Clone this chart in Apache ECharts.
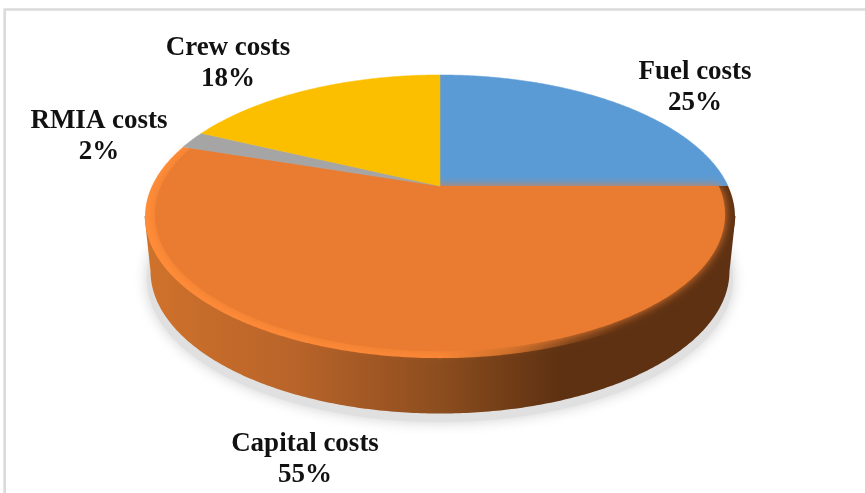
<!DOCTYPE html>
<html>
<head>
<meta charset="utf-8">
<style>html,body{margin:0;padding:0;background:#fff}#c{width:865px;height:493px}</style>
<script src="https://cdn.jsdelivr.net/npm/echarts@6/dist/echarts.min.js"></script>
</head>
<body>
<div id="c"></div>
<script>
// Data, clockwise from 12 o'clock
var categories = ['Fuel costs', 'Capital costs', 'RMIA costs', 'Crew costs'];
var shares = [25, 55, 2, 18];

// Styling and layout, kept apart from the data
var sliceColors = ['#5b9bd5', '#ea7c31', '#a5a5a5', '#fcbf00'];
var labelAnchors = [[695, 87.5], [305, 459.5], [99, 136.5], [228, 64]];
var apex = [440, 186], scaleX = 288, scaleY = 135, persp = 0.2157, rimScale = 0.968;
var wallCx = 440, wallTop = 216, wallTopRx = 295.5, wallTopRy = 141.5;
var wallBottom = 271, wallBottomRx = 289.5, wallBottomRy = 142.5;
var total = shares.reduce(function (a, b) { return a + b; }, 0);

// Projects a point of the unit disc (angle clockwise from 12 o'clock) on to the tilted pie
function project(pct, r) {
  var t = pct / total * 2 * Math.PI;
  var u = r * Math.sin(t), v = r * Math.cos(t), d = 1 + persp * v;
  return [apex[0] + scaleX * u / d, apex[1] - scaleY * v / d];
}
function slicePoints(from, to, r) {
  var pts = [apex.slice()];
  var n = Math.max(8, Math.ceil((to - from) * 8));
  for (var i = 0; i <= n; i++) pts.push(project(from + (to - from) * i / n, r));
  return pts;
}
function ellipsePoints(cx, cy, rx, ry, a0, a1, n) {
  var pts = [];
  for (var i = 0; i <= n; i++) {
    var a = a0 + (a1 - a0) * i / n;
    pts.push([cx + rx * Math.cos(a), cy + ry * Math.sin(a)]);
  }
  return pts;
}
function hGradient(stops) {
  return new echarts.graphic.LinearGradient(146, 0, 736, 0, stops.map(function (s) {
    return { offset: s[0], color: s[1] };
  }), true);
}

function renderBody() {
  var wall = ellipsePoints(wallCx, wallBottom, wallBottomRx, wallBottomRy, 0, Math.PI, 240);
  wall.unshift([wallCx + wallTopRx, wallTop]);
  wall.push([wallCx - wallTopRx, wallTop]);
  return {
    type: 'group', silent: true,
    children: [{
      type: 'polygon',
      shape: { points: ellipsePoints(440, 279, 293, 143, 0, 2 * Math.PI, 240) },
      style: { fill: '#e0e0e0', shadowBlur: 14, shadowColor: '#d0d0d0' }
    }, {
      type: 'polygon', shape: { points: wall },
      style: { fill: hGradient([[0, '#cf722b'], [0.25, '#b9642a'], [0.5, '#8c4d1e'], [0.7, '#5e3112'], [1, '#5e3112']]) }
    }]
  };
}

function renderSlice(params, api) {
  var idx = params.dataIndex;
  var value = api.value(0);
  var start = 0;
  for (var i = 0; i < idx; i++) start += shares[i];
  var end = start + value;
  var color = sliceColors[idx];
  var children = [];

  if (idx === 1) { // the front slice carries the bevelled rim
    children.push({
      type: 'polygon', silent: true, shape: { points: slicePoints(start, end, 1) },
      style: { fill: hGradient([[0, '#ff8c38'], [0.5, '#fb8736'], [0.62, '#c96d2a'], [0.72, '#7c4319'], [0.8, '#5e3112'], [1, '#5e3112']]) }
    });
    children.push({
      type: 'polygon', shape: { points: slicePoints(start, end, rimScale) },
      style: { fill: color, shadowBlur: 10, shadowColor: color }
    });
  } else {
    children.push({
      type: 'polygon', shape: { points: slicePoints(start, end, 1) },
      style: { fill: color, stroke: color, lineWidth: 0.5 }
    });
  }
  return { type: 'group', children: children };
}

function renderLabels(params, api) {
  var a = labelAnchors[params.dataIndex];
  return {
    type: 'text', silent: true, x: a[0], y: a[1],
    style: {
      text: categories[params.dataIndex] + '\n' + api.value(0) + '%',
      fill: '#111', align: 'center', verticalAlign: 'middle',
      font: 'bold 27px "Liberation Serif", serif', lineHeight: 31
    }
  };
}

var chart = echarts.init(document.getElementById('c'), null, { renderer: 'canvas' });
chart.setOption({
  animation: false,
  backgroundColor: '#ffffff',
  graphic: [{
    type: 'rect', silent: true, z: -10,
    shape: { x: 4.7, y: 9.5, width: 1000, height: 700 },
    style: { fill: 'transparent', stroke: '#dadada', lineWidth: 2.6 }
  }],
  series: [
    { type: 'custom', name: 'Body', coordinateSystem: 'none', renderItem: renderBody, z: 1, silent: true,
      data: [[total]] },
    { type: 'custom', name: 'Costs', coordinateSystem: 'none', renderItem: renderSlice, z: 2,
      data: shares.map(function (v, i) { return { name: categories[i], value: [v] }; }) },
    { type: 'custom', name: 'Labels', coordinateSystem: 'none', renderItem: renderLabels, z: 5,
      data: shares.map(function (v, i) { return { name: categories[i], value: [v] }; }) }
  ]
});
</script>
</body>
</html>
